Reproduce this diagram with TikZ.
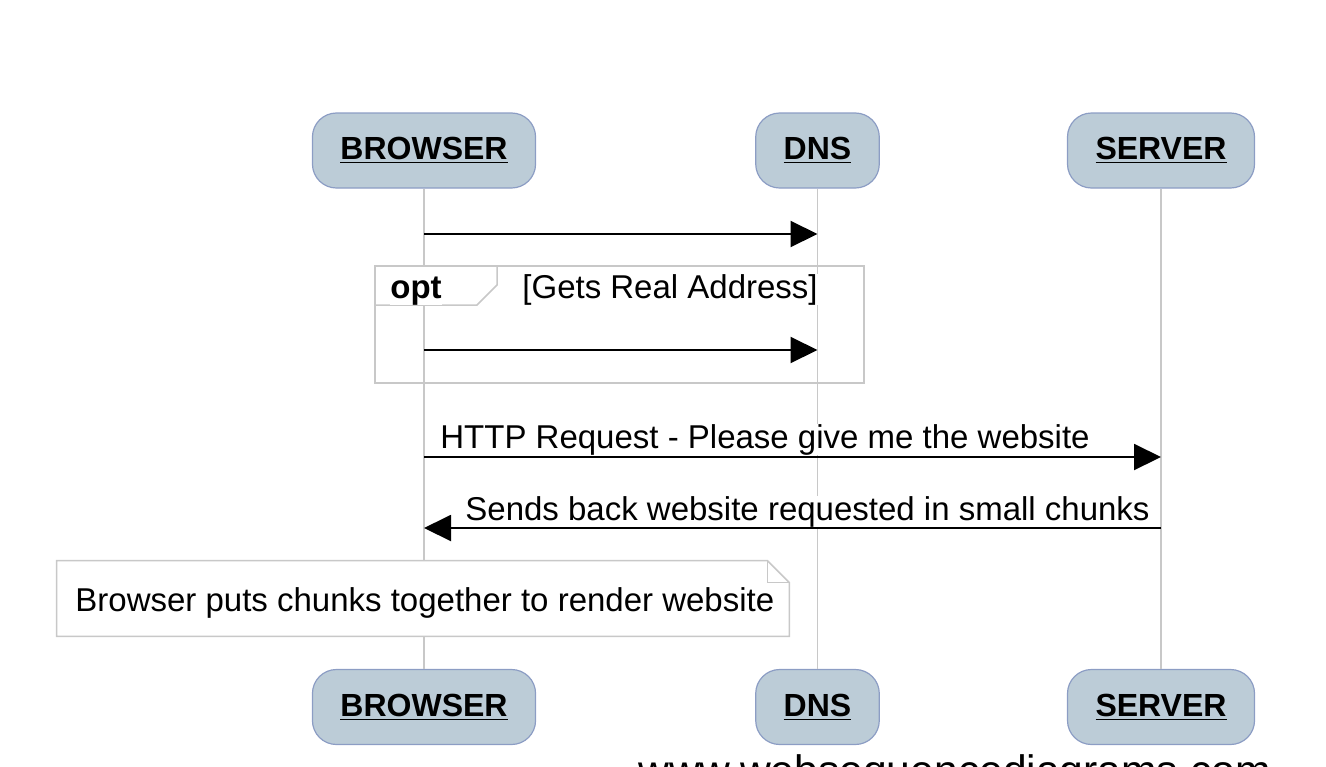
\documentclass[tikz,border=0pt]{standalone}
\usepackage{fontspec}
\setmainfont{Liberation Sans}
\usetikzlibrary{arrows.meta,positioning,calc}
\definecolor{BoxFill}{HTML}{BCCCD7}
\definecolor{BoxLine}{HTML}{8C9DC4}
\definecolor{LifeGray}{HTML}{C8C8C8}

\begin{document}
\begin{tikzpicture}[x=0.5pt,y=-0.5pt,>={Triangle[length=13.5pt,width=13pt]},
  actor/.style={draw=BoxLine,line width=0.6pt,fill=BoxFill,rounded corners=12pt,minimum height=37.5pt,inner xsep=14pt,font=\fontsize{16}{19}\selectfont\bfseries},
  life/.style={draw=LifeGray,line width=0.75pt},
  msg/.style={->,line width=1pt},
  lbl/.style={anchor=base west,fill=white,inner sep=0pt,font=\fontsize{16.5}{19}\selectfont}]
  \useasboundingbox (0,0) rectangle (1326,766);
  % participants, top and bottom
  \node[actor] (b) at (424,150.5) {\underline{BROWSER}};
  \node[actor] (d) at (817.5,150.5) {\underline{DNS}};
  \node[actor] (s) at (1161,150.5) {\underline{SERVER}};
  \node[actor] (b2) at (424,707) {\underline{BROWSER}};
  \node[actor] (d2) at (817.5,707) {\underline{DNS}};
  \node[actor] (s2) at (1161,707) {\underline{SERVER}};
  \draw[life] (b) -- (b2);
  \draw[life] (d) -- (d2);
  \draw[life] (s) -- (s2);
  % opt frame
  \coordinate (f1) at (375,266);
  \coordinate (f2) at (864,383);
  \draw[LifeGray,line width=0.75pt] (f1) rectangle (f2);
  \draw[LifeGray,line width=0.75pt,fill=white] (f1) -- (497,266) -- (497,285) -- (477,305) -- (375,305) -- cycle;
  \node[lbl,font=\fontsize{16.5}{19}\selectfont\bfseries] (opt) at (390,298) {opt};
  \node[lbl] (guard) at (522,298) {[Gets Real Address]};
  % messages
  \coordinate (m1b) at (b.center |- 0,234);
  \coordinate (m1d) at (d.center |- 0,234);
  \coordinate (m2b) at (b.center |- 0,350);
  \coordinate (m2d) at (d.center |- 0,350);
  \coordinate (m3b) at (b.center |- 0,457);
  \coordinate (m3s) at (s.center |- 0,457);
  \coordinate (m4b) at (b.center |- 0,528);
  \coordinate (m4s) at (s.center |- 0,528);
  \draw[msg] (m1b) -- (m1d);
  \draw[msg] (m2b) -- (m2d);
  \draw[msg] (m3b) -- (m3s);
  \node[lbl] (req) at (440,448) {HTTP Request - Please give me the website};
  \draw[msg] (m4s) -- (m4b);
  \node[lbl] (resp) at (465,520) {Sends back website requested in small chunks};
  % note
  \node[fill=white,minimum width=366pt,minimum height=37.5pt,inner sep=0pt] (note) at (423,598.5) {};
  \draw[LifeGray,line width=0.75pt] (note.south west) -- (note.north west)
    -- ($(note.north east)+(-22,0)$) -- ($(note.north east)+(0,22)$) -- (note.south east) -- cycle;
  \draw[LifeGray,line width=0.75pt] ($(note.north east)+(-22,0)$) -- ($(note.north east)+(-22,22)$)
    -- ($(note.north east)+(0,22)$);
  \node[lbl] (notetext) at (75,611) {Browser puts chunks together to render website};
  % watermark
  \node[anchor=base west,inner sep=0pt,font=\fontsize{21.3}{25}\selectfont] (wm) at (638,785) {www.websequencediagrams.com};
\end{tikzpicture}
\end{document}
